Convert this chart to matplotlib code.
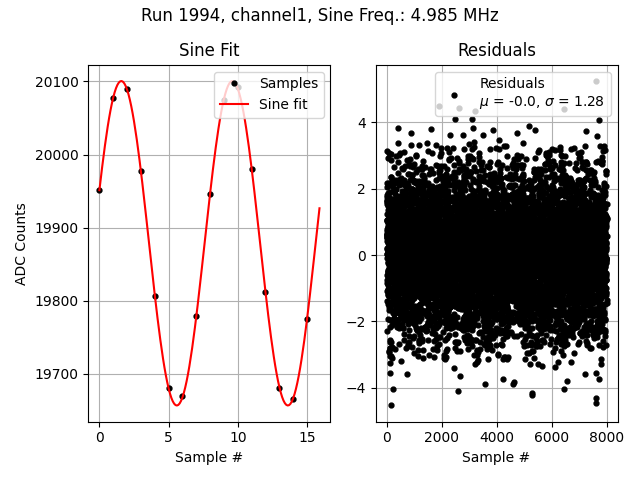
import numpy as np
import matplotlib
matplotlib.use("Agg")
import matplotlib.pyplot as plt

# data
run_number = 1994
channel = "channel1"
sine_freq_mhz = 4.985
sample_rate_mhz = 40.0

sample_index = np.arange(16)
adc_counts = [19951, 20077, 20090, 19978, 19806, 19681, 19670, 19779,
              19946, 20075, 20092, 19980, 19812, 19680, 19666, 19775]

n_residuals = 8000
residual_mu = -0.0
residual_sigma = 1.28

outlier_x = [7610, 1912, 2618, 3215, 6453, 2496, 3105, 7720, 426, 1632,
             3130, 5175, 5394, 3884, 2764, 3494, 7257, 4737, 877, 7659,
             4103, 2313,
             170, 250, 110, 755, 2581, 3567, 4225, 4627, 4590, 5284,
             5290, 6441, 6551, 7610 - 3, 7612, 7720 + 2, 7208, 7605, 2667]
outlier_y = [5.24, 4.49, 4.43, 4.34, 4.40, 4.09, 4.09, 4.06, 3.82, 3.79,
             3.82, 3.88, 3.76, 3.76, 3.61, 3.61, 3.73, 3.67, 3.67, 3.58,
             3.45, 3.62,
             -4.53, -4.04, -3.56, -3.59, -4.09, -3.89, -3.72, -3.82, -3.89, -4.14,
             -4.22, -4.04, -3.79, -4.45, -4.30, -3.72, -3.59, -3.54, -3.65]

# sine fit at the known frequency (linear least squares on the samples)
f = sine_freq_mhz / sample_rate_mhz
t = sample_index.astype(float)
A = np.column_stack([np.sin(2 * np.pi * f * t), np.cos(2 * np.pi * f * t), np.ones_like(t)])
coef, *_ = np.linalg.lstsq(A, np.asarray(adc_counts, float), rcond=None)
t_fit = np.arange(0, 16, 0.1)
y_fit = coef[0] * np.sin(2 * np.pi * f * t_fit) + coef[1] * np.cos(2 * np.pi * f * t_fit) + coef[2]

# bulk of the residual cloud: only its spread can be read, so it is drawn as noise
rng = np.random.default_rng(1994)
res = rng.normal(0, residual_sigma, n_residuals)
bad = np.abs(res) > 3.4
while bad.any():
    res[bad] = rng.normal(0, residual_sigma, bad.sum())
    bad = np.abs(res) > 3.4
res[outlier_x] = outlier_y
res_x = np.arange(n_residuals)

fig, (ax1, ax2) = plt.subplots(1, 2, figsize=(6.4, 4.8), dpi=100)
fig.suptitle(f"Run {run_number}, {channel}, Sine Freq.: {sine_freq_mhz} MHz", y=0.985)

ax1.plot(sample_index, adc_counts, "k.", ms=7, label="Samples")
ax1.plot(t_fit, y_fit, color="red", label="Sine fit")
ax1.set_title("Sine Fit")
ax1.set_xlabel("Sample #")
ax1.set_ylabel("ADC Counts")
ax1.grid(True)
ax1.legend(loc="upper right")

ax2.plot(res_x, res, "k.", ms=7,
         label="Residuals\n$\\mu$ = %.1f, $\\sigma$ = %.2f" % (residual_mu, residual_sigma))
ax2.set_title("Residuals")
ax2.set_xlabel("Sample #")
ax2.grid(True)
ax2.legend(loc="upper right")

plt.tight_layout()
plt.subplots_adjust(top=0.865)
plt.savefig("out.png")
